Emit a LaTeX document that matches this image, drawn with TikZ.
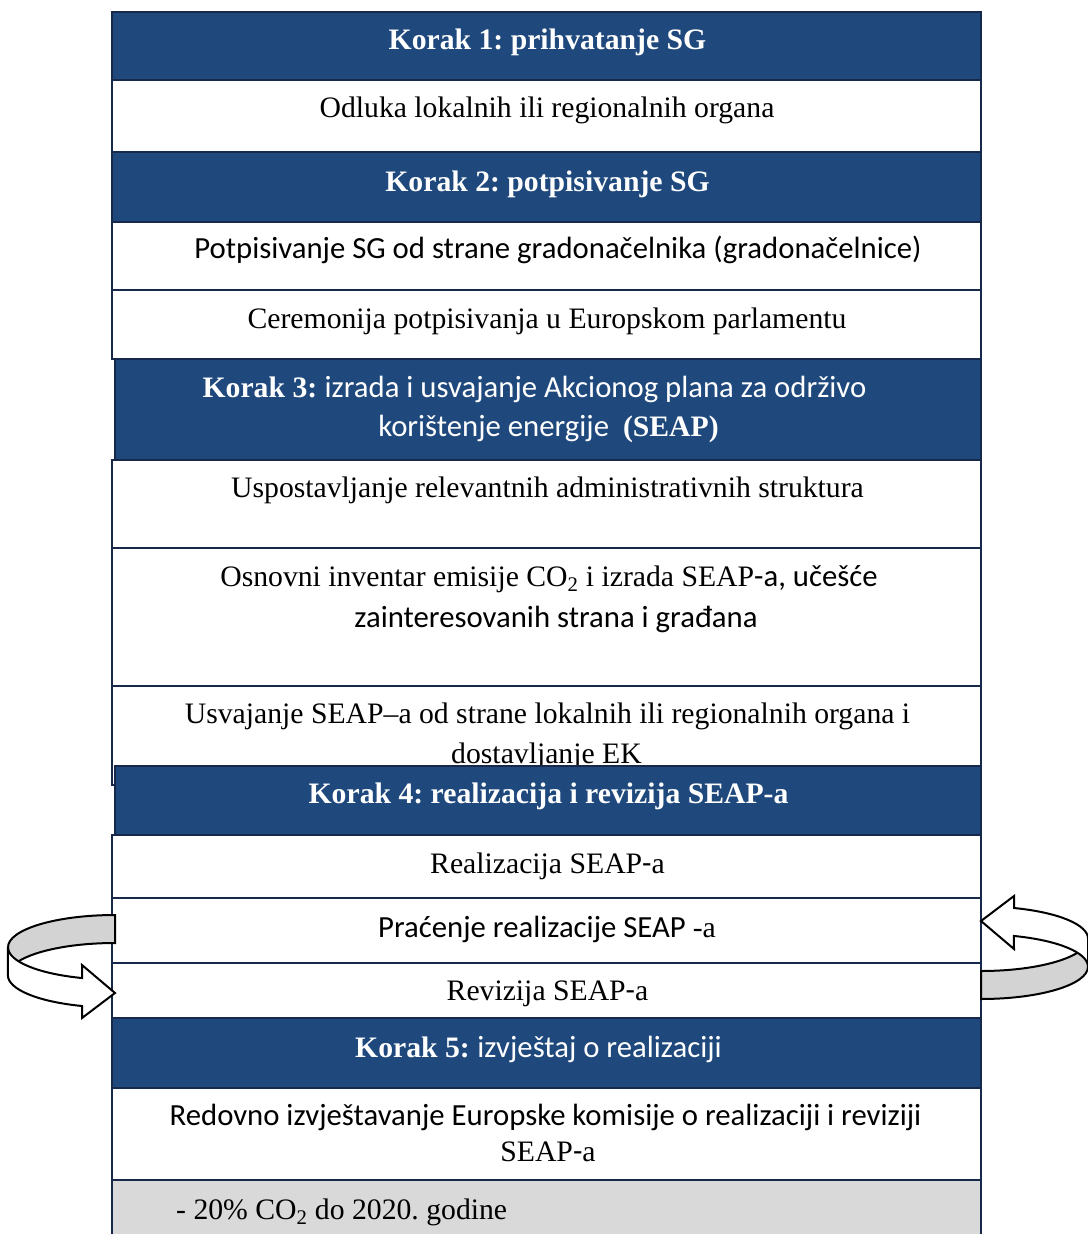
\documentclass[tikz,border=0pt]{standalone}
\usepackage{fontspec}
\setmainfont{Liberation Serif}
\newfontfamily\calfont[Scale=1.035]{Carlito}
\frenchspacing
\definecolor{hdrblue}{HTML}{1F497D}
\definecolor{rowline}{HTML}{16294A}
\definecolor{bandgray}{HTML}{D3D3D3}
\definecolor{goalgray}{HTML}{D9D9D9}
\tikzset{
  rowbox/.style={draw=rowline, line width=2.5pt, fill=white},
  hdrbox/.style={rowbox, fill=hdrblue},
  goalbox/.style={rowbox, fill=goalgray},
  txt/.style={anchor=base, inner sep=0pt, font=\fontsize{29.7}{36}\selectfont},
  htxt/.style={txt, text=white},
  band/.style={draw=black, line width=2pt},
}
\begin{document}
\begin{tikzpicture}[x=1pt, y=-1pt]
\useasboundingbox (0,0) rectangle (1087,1234);
% white rows
\foreach \top/\bot in {80/152, 222/290, 290/359, 460/548, 548/686,
  686/785, 835/898, 898/963, 963/1018, 1088/1180}
  \draw[rowbox] (112,\top) rectangle (981,\bot);
\node[txt] (odluka) at (547,117) {Odluka lokalnih ili regionalnih organa};
\node[txt] (potpis) at (558,258) {\calfont Potpisivanje SG od strane gradonačelnika (gradonačelnice)};
\node[txt] (ceremonija) at (547,328) {Ceremonija potpisivanja u Europskom parlamentu};
\node[txt] (uspost) at (547.5,497) {Uspostavljanje relevantnih administrativnih struktura};
\node[txt] (osnovA) at (549,586) {Osnovni inventar emisije CO\textsubscript{2} i izrada SEAP{\calfont -a, učešće}};
\node[txt] (osnovB) at (556,627) {\calfont zainteresovanih strana i građana};
\node[txt] (usvajA) at (547.5,723) {Usvajanje SEAP–a od strane lokalnih ili regionalnih organa i};
\node[txt] (usvajB) at (546.5,763) {dostavljanje EK};
\node[txt] (realiz) at (547.5,873) {Realizacija SEAP{\calfont -}a};
\node[txt] (pracenje) at (547,937) {{\calfont Praćenje realizacije SEAP }-a};
\node[txt] (revizija) at (547.5,1000) {Revizija SEAP{\calfont -}a};
\node[txt] (redovA) at (545.5,1125) {\calfont Redovno izvještavanje Europske komisije o realizaciji i reviziji};
\node[txt] (redovB) at (548,1161) {SEAP{\calfont -}a};
% step headers
\draw[hdrbox] (112,12) rectangle (981,80);
\draw[hdrbox] (112,152) rectangle (981,222);
\draw[hdrbox] (115,359) rectangle (981,460);
\draw[hdrbox] (115,766) rectangle (981,835);
\draw[hdrbox] (112,1018) rectangle (981,1088);
\node[htxt] (k1) at (547.5,49) {\bfseries Korak 1: prihvatanje SG};
\node[htxt] (k2) at (547.5,191) {\bfseries Korak 2: potpisivanje SG};
\node[htxt] (k3a) at (534.5,397) {{\bfseries Korak 3:} {\calfont izrada i usvajanje Akcionog plana za održivo}};
\node[htxt] (k3b) at (548.5,436) {{\calfont korištenje energije\ \ }{\bfseries (SEAP)}};
\node[htxt] (k4) at (548.5,803) {\bfseries Korak 4: realizacija i revizija SEAP-a};
\node[htxt] (k5) at (538.5,1057) {{\bfseries Korak 5:} {\calfont izvještaj o realizaciji}};
% goal
\draw[goalbox] (112,1180) rectangle (981,1250);
\node[txt, anchor=base west] (cilj) at (176,1219) {- 20\% CO\textsubscript{2} do 2020. godine};
% review loops
\foreach \turn in {0,180}
{
\begin{scope}[rotate around={\turn:(548,957)}]
\draw[band, fill=bandgray] (115,915)
  arc[start angle=270, end angle=180, x radius=107, y radius=32.3]
  -- (8,975.3)
  arc[start angle=180, end angle=270, x radius=107, y radius=32.3] -- cycle;
\draw[band, fill=white] (8,947.3)
  arc[start angle=180, end angle=107.9, x radius=107, y radius=32.3]
  -- (82,965) -- (115,993) -- (82,1018) -- (82,1006)
  arc[start angle=107.9, end angle=180, x radius=107, y radius=32.3] -- cycle;
\end{scope}
}
\end{tikzpicture}
\end{document}
